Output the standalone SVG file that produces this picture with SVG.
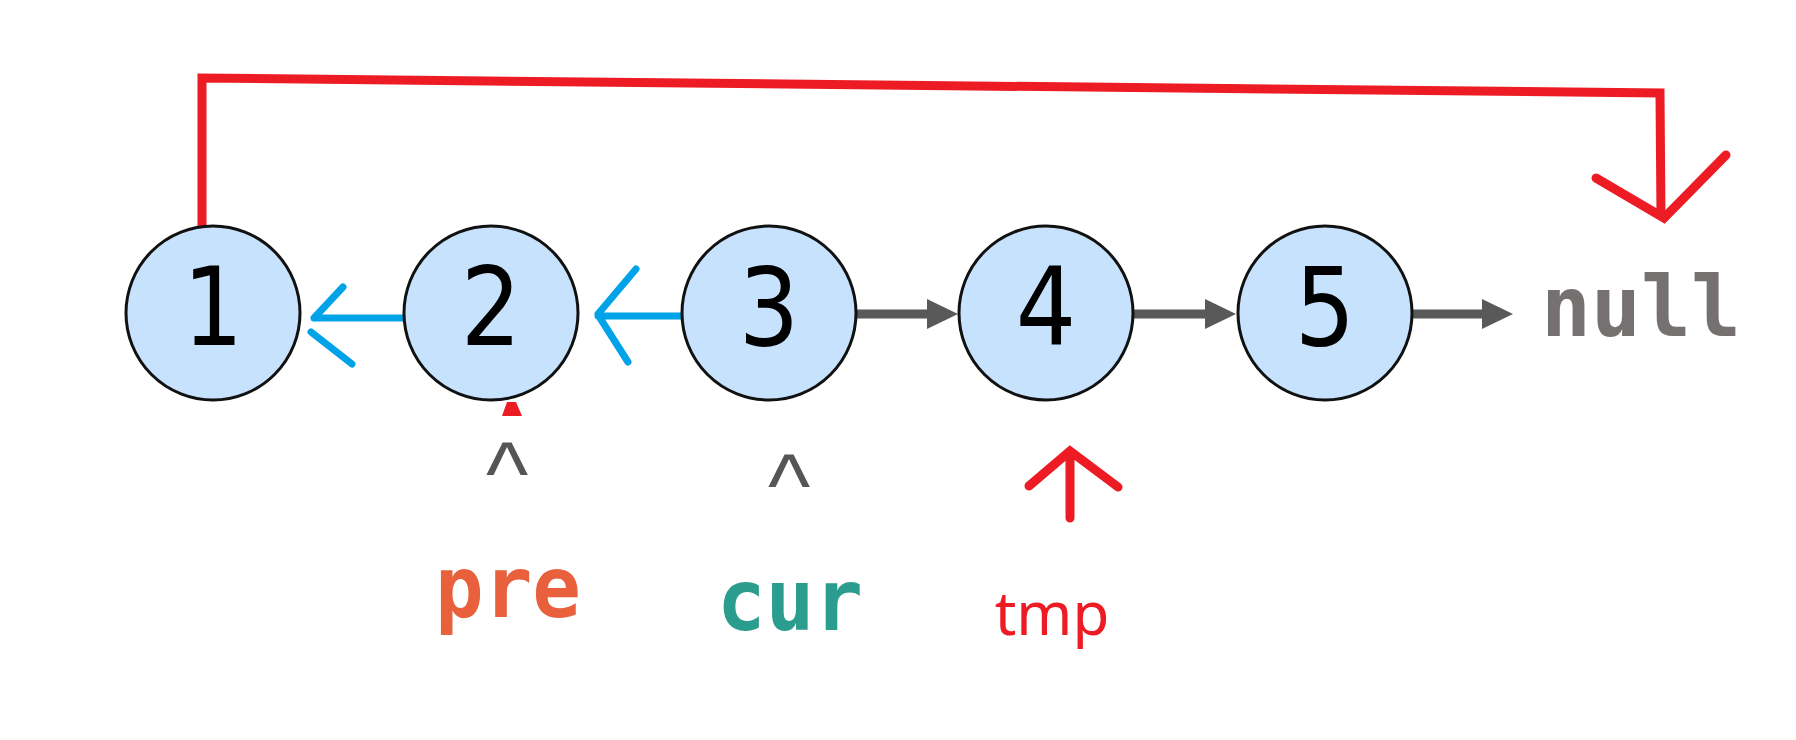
<svg xmlns="http://www.w3.org/2000/svg" width="1796" height="740" viewBox="0 0 1796 740">
<style>
.node circle{fill:#c6e2fc;stroke:#111;stroke-width:3}
.node text{font-family:"DejaVu Sans",sans-serif;font-size:108px;fill:#000;text-anchor:middle}
.gray{stroke:#595959;stroke-width:9;fill:none}
.blue{stroke:#00a2e8;stroke-width:7;fill:none;stroke-linecap:round;stroke-linejoin:round}
.red{stroke:#ed1c24;stroke-width:9;fill:none;stroke-linejoin:miter}
.caret{font-family:"Liberation Sans",Arial,sans-serif;font-size:90px;fill:#555;text-anchor:middle}
.code{font-family:"DejaVu Sans Mono",monospace;font-weight:bold;font-size:86px}
</style>
<g id="connectors">
<path class="gray" d="M856,314 L935,314"/>
<path d="M927,299 L958,314 L927,329 Z" fill="#595959"/>
<path class="gray" d="M1133,314 L1212,314"/>
<path d="M1205,299 L1236,314 L1205,329 Z" fill="#595959"/>
<path class="gray" d="M1413,314 L1490,314"/>
<path d="M1482,299 L1513,314 L1482,329 Z" fill="#595959"/>
<path class="blue" d="M404,318 L314,318 M343,287 L314,318 M311,332 L352,364"/>
<path class="blue" d="M684,316 L598,316 M636,269 L598,314 M600,318 L628,362"/>
<path class="red" d="M202,228 L202,78 L1660,93 L1661,218"/>
<path class="red" stroke-width="8" stroke-linecap="round" d="M1596,178 L1664,218 L1726,155"/>
<path class="red" stroke-width="8" stroke-linecap="round" d="M1070,518 L1070,451 M1029,486 L1070,451 L1118,487"/>
<path d="M507,402 L516,402 L522,416 L502,416 Z" fill="#ed1c24"/>
</g>
<g id="node1" class="node"><circle cx="213" cy="313" r="87"/><text transform="translate(213,345) scale(0.88,1)">1</text></g>
<g id="node2" class="node"><circle cx="491" cy="313" r="87"/><text transform="translate(491,345) scale(0.88,1)">2</text></g>
<g id="node3" class="node"><circle cx="769" cy="313" r="87"/><text transform="translate(769,345) scale(0.88,1)">3</text></g>
<g id="node4" class="node"><circle cx="1046" cy="313" r="87"/><text transform="translate(1046,345) scale(0.88,1)">4</text></g>
<g id="node5" class="node"><circle cx="1325" cy="313" r="87"/><text transform="translate(1325,345) scale(0.88,1)">5</text></g>
<g id="null"><text x="1541" y="336" font-family="DejaVu Sans Mono,monospace" font-weight="bold" font-size="83" fill="#767171">null</text></g>
<g id="labels">
<text class="caret" x="507" y="505">^</text>
<text class="caret" x="789" y="517">^</text>
<text class="code" x="435" y="617" fill="#e8603c" textLength="146" lengthAdjust="spacingAndGlyphs">pre</text>
<text class="code" x="717" y="630" fill="#2a9d8f" textLength="146" lengthAdjust="spacingAndGlyphs">cur</text>
<text x="1052" y="635" font-family="Noto Sans,sans-serif" font-size="60" fill="#ed1c24" text-anchor="middle">tmp</text>
</g>
</svg>
